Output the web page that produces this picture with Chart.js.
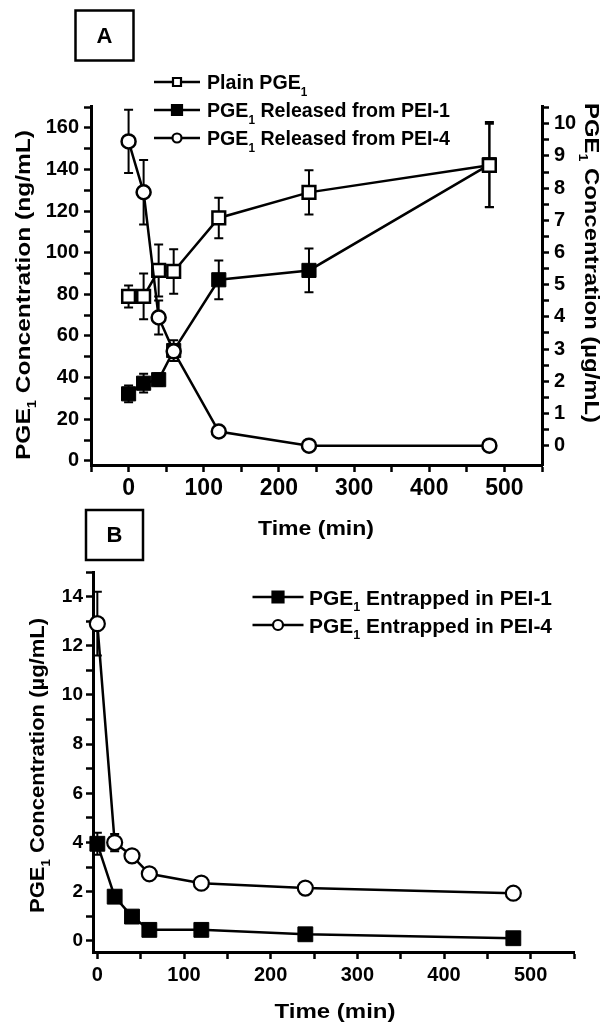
<!DOCTYPE html>
<html>
<head>
<meta charset="utf-8">
<script src="https://cdn.jsdelivr.net/npm/chart.js@4.4.1/dist/chart.umd.min.js"></script>
<style>
  html, body { margin: 0; padding: 0; background: #fff; }
  #wrap { position: relative; width: 614px; height: 1034px; }
  #wrap canvas { position: absolute; left: 0; top: 0; }
</style>
</head>
<body>
<div id="wrap">
  <canvas id="chartA" width="614" height="1034"></canvas>
  <canvas id="chartB" width="614" height="1034"></canvas>
</div>
<script>
const FONT = '"Liberation Sans", Arial, Helvetica, sans-serif';

// sampling times (min), same for every series
const times = [0, 20, 40, 60, 120, 240, 480];

// Panel A - left axis (ng/mL)
const plainPGE1 = [79, 79, 91.5, 91, 116.7, 129, 142];
const plainPGE1Err = [5.3, 11, 12.5, 10.7, 9.7, 10.6, 20];
const releasedPEI1 = [32.2, 37.3, 39, 53, 87, 91.5, 142.3];
const releasedPEI1Err = [4, 4.5, 3, 5, 9.3, 10.5, 20.5];
// Panel A - right axis (ug/mL)
const releasedPEI4 = [9.45, 7.87, 3.98, 2.93, 0.44, 0, 0];
const releasedPEI4Err = [0.98, 1.0, 0.53, 0.2, 0.1, 0, 0];

// Panel B (ug/mL)
const entrappedPEI1 = [3.95, 1.8, 0.99, 0.45, 0.45, 0.27, 0.11];
const entrappedPEI1Err = [0.45, 0.15, 0.1, 0.05, 0.05, 0.05, 0.05];
const entrappedPEI4 = [12.9, 4.0, 3.46, 2.73, 2.35, 2.15, 1.94];
const entrappedPEI4Err = [1.3, 0.35, 0.2, 0.1, 0.1, 0.1, 0.1];

// tick values (major ones get a label)
const xTicksA = [-50, 0, 50, 100, 150, 200, 250, 300, 350, 400, 450, 500, 550];
const leftTicksA = [0, 10, 20, 30, 40, 50, 60, 70, 80, 90, 100, 110, 120, 130, 140, 150, 160, 170];
const rightTicksA = [0, 0.5, 1, 1.5, 2, 2.5, 3, 3.5, 4, 4.5, 5, 5.5, 6, 6.5, 7, 7.5, 8, 8.5, 9, 9.5, 10, 10.5];
const xTicksB = [0, 50, 100, 150, 200, 250, 300, 350, 400, 450, 500, 550];
const yTicksB = [0, 1, 2, 3, 4, 5, 6, 7, 8, 9, 10, 11, 12, 13, 14, 15];

const pts = arr => times.map((t, i) => ({ x: t, y: arr[i] }));

function axis(o) {
  return {
    type: 'linear',
    position: o.position,
    min: o.min,
    max: o.max,
    afterBuildTicks: s => { s.ticks = o.ticks.map(v => ({ value: v })); },
    afterFit: s => {
      if (o.width !== undefined) s.width = o.width;
      if (o.height !== undefined) s.height = o.height;
    },
    ticks: {
      autoSkip: false, maxRotation: 0, padding: o.pad, color: '#000',
      font: { family: FONT, size: o.size, weight: 'bold' },
      callback: v => (Math.abs(v % o.major) < 1e-9 ? String(v) : '')
    },
    grid: { drawOnChartArea: false, drawTicks: true, tickLength: 7, tickWidth: 2.5, tickColor: '#000' },
    border: { display: true, color: '#000', width: 3 }
  };
}

const probe = document.createElement('canvas').getContext('2d');

function textWidth(parts, size) {
  let w = 0;
  parts.forEach(p => {
    probe.font = `bold ${p.sub ? size * 0.6 : size}px ${FONT}`;
    w += probe.measureText(p.t).width;
  });
  return w;
}

// text with a subscript "1", optionally stretched to a target width
function richText(ctx, parts, x, y, size, o = {}) {
  const subSize = size * 0.6;
  const fnt = s => `bold ${s}px ${FONT}`;
  const w = textWidth(parts, size);
  const sx = o.width ? o.width / w : (o.stretch || 1);
  ctx.save();
  ctx.translate(x, y);
  if (o.rot) ctx.rotate(o.rot);
  ctx.scale(sx, 1);
  ctx.fillStyle = '#000';
  ctx.textBaseline = 'alphabetic';
  ctx.textAlign = 'left';
  let cx = o.align === 'center' ? -w / 2 : 0;
  const base = size * 0.36;
  parts.forEach(p => {
    ctx.font = fnt(p.sub ? subSize : size);
    ctx.fillText(p.t, cx, p.sub ? base + size * 0.32 : base);
    cx += ctx.measureText(p.t).width;
  });
  ctx.restore();
}

function marker(ctx, style, x, y, size, fill, lw) {
  ctx.save();
  ctx.lineWidth = lw;
  ctx.strokeStyle = '#000';
  ctx.fillStyle = fill;
  ctx.beginPath();
  if (style === 'circle') ctx.arc(x, y, size, 0, Math.PI * 2);
  else ctx.rect(x - size / 2, y - size / 2, size, size);
  ctx.fill();
  ctx.stroke();
  ctx.restore();
}

function panelBox(ctx, x, y, w, h, letter) {
  ctx.save();
  ctx.lineWidth = 2.5;
  ctx.strokeStyle = '#000';
  ctx.strokeRect(x, y, w, h);
  ctx.fillStyle = '#000';
  ctx.font = `bold 22px ${FONT}`;
  ctx.textAlign = 'center';
  ctx.textBaseline = 'middle';
  ctx.fillText(letter, x + w / 2, y + h / 2 + 1);
  ctx.restore();
}

function drawLegend(ctx, items, x1, x2, tx, rows, size, refWidth) {
  // stretch so the second row matches the reference width
  const stretch = refWidth / textWidth(items[1].parts, size);
  items.forEach((it, i) => {
    const y = rows[i];
    ctx.save();
    ctx.strokeStyle = '#000';
    ctx.lineWidth = 2.5;
    ctx.beginPath();
    ctx.moveTo(x1, y);
    ctx.lineTo(x2, y);
    ctx.stroke();
    ctx.restore();
    marker(ctx, it.style, (x1 + x2) / 2, y, it.msize, it.fill, 2.2);
    richText(ctx, it.parts, tx, y, size, { stretch });
  });
}

const errorBars = {
  id: 'errorBars',
  beforeDatasetsDraw(chart) {
    const ctx = chart.ctx;
    chart.data.datasets.forEach((ds, di) => {
      if (!ds.errors) return;
      const meta = chart.getDatasetMeta(di);
      const ys = chart.scales[meta.yAxisID];
      const xs = chart.scales[meta.xAxisID];
      ds.data.forEach((d, i) => {
        const e = ds.errors[i];
        if (!e) return;
        const px = xs.getPixelForValue(d.x);
        const top = ys.getPixelForValue(d.y + e);
        const bot = ys.getPixelForValue(d.y - e);
        ctx.save();
        ctx.strokeStyle = '#000';
        ctx.lineWidth = 2;
        ctx.beginPath();
        ctx.moveTo(px, top); ctx.lineTo(px, bot);
        ctx.moveTo(px - 4.5, top); ctx.lineTo(px + 4.5, top);
        ctx.moveTo(px - 4.5, bot); ctx.lineTo(px + 4.5, bot);
        ctx.stroke();
        ctx.restore();
      });
    });
  }
};

const PGE = [{ t: 'PGE' }, { t: '1', sub: true }];

const decorA = {
  id: 'decorA',
  afterDraw(chart) {
    const ctx = chart.ctx;
    panelBox(ctx, 75.5, 10.5, 58, 50, 'A');
    drawLegend(ctx, [
      { parts: [{ t: 'Plain ' }, ...PGE], style: 'rect', fill: '#fff', msize: 8 },
      { parts: [...PGE, { t: ' Released from PEI-1' }], style: 'rect', fill: '#000', msize: 10 },
      { parts: [...PGE, { t: ' Released from PEI-4' }], style: 'circle', fill: '#fff', msize: 4.5 }
    ], 154, 200, 207, [82, 110, 138], 20, 243);
    richText(ctx, [{ t: 'Time (min)' }], 316, 527, 21, { align: 'center', width: 116 });
    richText(ctx, [...PGE, { t: ' Concentration (ng/mL)' }], 22, 295, 21,
      { align: 'center', width: 330, rot: -Math.PI / 2 });
    richText(ctx, [...PGE, { t: ' Concentration (\u00b5g/mL)' }], 593, 263, 21,
      { align: 'center', width: 320, rot: Math.PI / 2 });
  }
};

const decorB = {
  id: 'decorB',
  afterDraw(chart) {
    const ctx = chart.ctx;
    panelBox(ctx, 86, 510, 57, 50, 'B');
    drawLegend(ctx, [
      { parts: [...PGE, { t: ' Entrapped in PEI-1' }], style: 'rect', fill: '#000', msize: 11 },
      { parts: [...PGE, { t: ' Entrapped in PEI-4' }], style: 'circle', fill: '#fff', msize: 5 }
    ], 252.5, 303.5, 309, [597, 625], 21, 243);
    richText(ctx, [{ t: 'Time (min)' }], 335, 1010, 21, { align: 'center', width: 121 });
    richText(ctx, [...PGE, { t: ' Concentration (\u00b5g/mL)' }], 36.5, 765.5, 20,
      { align: 'center', width: 295, rot: -Math.PI / 2 });
  }
};

const lineStyle = { borderColor: '#000', borderWidth: 2.5, tension: 0, clip: false, pointBorderColor: '#000' };

new Chart(document.getElementById('chartA'), {
  type: 'line',
  data: {
    datasets: [
      { ...lineStyle, label: 'Plain PGE1', data: pts(plainPGE1), errors: plainPGE1Err, yAxisID: 'y',
        pointStyle: 'rect', pointRadius: 9, pointBackgroundColor: '#fff', pointBorderWidth: 2.5, order: 1 },
      { ...lineStyle, label: 'PGE1 Released from PEI-1', data: pts(releasedPEI1), errors: releasedPEI1Err, yAxisID: 'y',
        pointStyle: 'rect', pointRadius: 10, pointBackgroundColor: '#000', pointBorderWidth: 1, order: 2 },
      { ...lineStyle, label: 'PGE1 Released from PEI-4', data: pts(releasedPEI4), errors: releasedPEI4Err, yAxisID: 'y2',
        pointStyle: 'circle', pointRadius: 7, pointBackgroundColor: '#fff', pointBorderWidth: 2.5, order: 0 }
    ]
  },
  options: {
    responsive: false,
    animation: false,
    layout: { padding: { top: 106, left: 0, right: 0, bottom: 0 } },
    plugins: { legend: { display: false }, tooltip: { enabled: false } },
    scales: {
      x: axis({ position: 'bottom', min: -50, max: 550, ticks: xTicksA, major: 100, size: 23, pad: 3, height: 1034 - 465 }),
      y: axis({ position: 'left', min: -2, max: 170.5, ticks: leftTicksA, major: 20, size: 20, pad: 5, width: 91 }),
      y2: axis({ position: 'right', min: -0.6, max: 10.55, ticks: rightTicksA, major: 1, size: 20, pad: 5, width: 72 })
    }
  },
  plugins: [errorBars, decorA]
});

new Chart(document.getElementById('chartB'), {
  type: 'line',
  data: {
    datasets: [
      { ...lineStyle, label: 'PGE1 Entrapped in PEI-1', data: pts(entrappedPEI1), errors: entrappedPEI1Err, yAxisID: 'y',
        pointStyle: 'rect', pointRadius: 10.5, pointBackgroundColor: '#000', pointBorderWidth: 1, order: 1 },
      { ...lineStyle, label: 'PGE1 Entrapped in PEI-4', data: pts(entrappedPEI4), errors: entrappedPEI4Err, yAxisID: 'y',
        pointStyle: 'circle', pointRadius: 7.5, pointBackgroundColor: '#fff', pointBorderWidth: 2.2, order: 0 }
    ]
  },
  options: {
    responsive: false,
    animation: false,
    layout: { padding: { top: 572, left: 0, right: 40, bottom: 0 } },
    plugins: { legend: { display: false }, tooltip: { enabled: false } },
    scales: {
      x: axis({ position: 'bottom', min: -5, max: 550, ticks: xTicksB, major: 100, size: 20, pad: 4, height: 1034 - 952 }),
      y: axis({ position: 'left', min: -0.45, max: 15, ticks: yTicksB, major: 2, size: 19, pad: 3, width: 93 })
    }
  },
  plugins: [errorBars, decorB]
});
</script>
</body>
</html>
